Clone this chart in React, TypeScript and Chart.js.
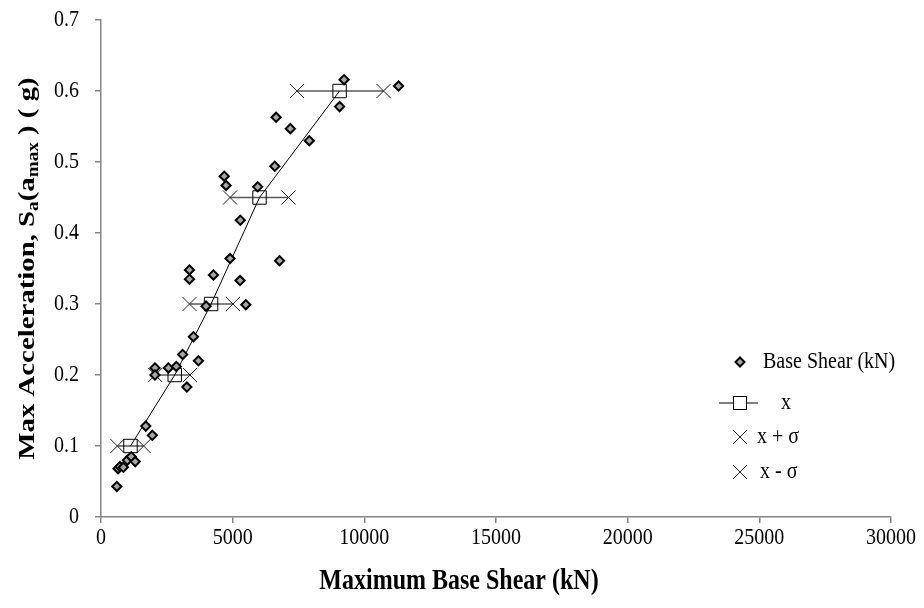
import React, { useEffect, useRef } from "react";
import { Chart, registerables } from "chart.js";

Chart.register(...registerables);

// ---- data ----
const shearX = [600, 650, 720, 850, 1000, 1150, 1300, 1700, 1950, 2050, 2050, 2560, 2860, 3260, 3700, 3100, 3510, 3990, 5500, 3360, 3360, 4270, 5280, 4900, 6780, 5290, 4680, 4750, 5950, 6600, 6650, 7190, 7910, 9060, 9230, 11300];
const shearY = [0.043, 0.068, 0.071, 0.07, 0.08, 0.085, 0.078, 0.128, 0.115, 0.21, 0.2, 0.21, 0.212, 0.183, 0.22, 0.229, 0.254, 0.297, 0.299, 0.348, 0.335, 0.341, 0.333, 0.364, 0.361, 0.418, 0.48, 0.467, 0.465, 0.494, 0.563, 0.547, 0.53, 0.578, 0.616, 0.607];

const levelY = [0.1, 0.2, 0.3, 0.45, 0.6];
const meanX = [1120, 2800, 4180, 6020, 9060];
const plusX = [1620, 3380, 5010, 7120, 10730];
const minusX = [620, 2060, 3360, 4900, 7440];

const xTicks = [0, 5000, 10000, 15000, 20000, 25000, 30000];
const yTicks = [0, 0.1, 0.2, 0.3, 0.4, 0.5, 0.6, 0.7];

const legendLabels = ["Base Shear (kN)", "x", "x + \u03c3", "x - \u03c3"];
const xTitle = "Maximum Base Shear (kN)";
const yTitleParts: { t: string; sub: boolean }[] = [
  { t: "Max Acceleration, S", sub: false },
  { t: "a", sub: true },
  { t: "(a", sub: false },
  { t: "max", sub: true },
  { t: " ) ( g)", sub: false },
];

const FONT = "'Liberation Serif', 'Times New Roman', serif";
const AXIS_GREY = "#868686";
const STRETCH = 1.2;

function drawDiamond(ctx: CanvasRenderingContext2D, x: number, y: number, r: number) {
  ctx.beginPath();
  ctx.moveTo(x, y - r);
  ctx.lineTo(x + r, y);
  ctx.lineTo(x, y + r);
  ctx.lineTo(x - r, y);
  ctx.closePath();
  ctx.fillStyle = "#a6a6a6";
  ctx.fill();
  ctx.lineWidth = 2;
  ctx.strokeStyle = "#000";
  ctx.stroke();
}

function drawX(ctx: CanvasRenderingContext2D, x: number, y: number, d: number) {
  ctx.beginPath();
  ctx.moveTo(x - d, y - d);
  ctx.lineTo(x + d, y + d);
  ctx.moveTo(x - d, y + d);
  ctx.lineTo(x + d, y - d);
  ctx.lineWidth = 1;
  ctx.strokeStyle = "#222";
  ctx.stroke();
}

// text drawn with the same slight vertical stretch seen in the reference
function tallText(
  ctx: CanvasRenderingContext2D,
  text: string,
  x: number,
  y: number,
  font: string,
  align: CanvasTextAlign
) {
  ctx.save();
  ctx.font = font;
  ctx.fillStyle = "#000";
  ctx.textAlign = align;
  ctx.textBaseline = "middle";
  ctx.translate(x, y);
  ctx.scale(1, STRETCH);
  ctx.fillText(text, 0, 0);
  ctx.restore();
}

const customPlugin = {
  id: "customText",
  afterDraw(chart: any) {
    const ctx: CanvasRenderingContext2D = chart.ctx;
    const area = chart.chartArea;
    const xs = chart.scales.x;
    const ys = chart.scales.y;
    const tickFont = `20px ${FONT}`;

    // ---- tick labels ----
    xTicks.forEach((v) => {
      tallText(ctx, String(v), xs.getPixelForValue(v), area.bottom + 21, tickFont, "center");
    });
    yTicks.forEach((v) => {
      tallText(ctx, String(v), area.left - 22, ys.getPixelForValue(v), tickFont, "right");
    });

    // ---- x title ----
    tallText(ctx, xTitle, 459, 582, `bold 24px ${FONT}`, "center");

    // ---- y title with subscripts ----
    ctx.save();
    const mainFont = `bold 24px ${FONT}`;
    const subFont = `bold 16px ${FONT}`;
    let total = 0;
    const widths = yTitleParts.map((p) => {
      ctx.font = p.sub ? subFont : mainFont;
      const w = ctx.measureText(p.t).width;
      total += w;
      return w;
    });
    const cy = (area.top + area.bottom) / 2;
    ctx.translate(28, cy);
    ctx.rotate(-Math.PI / 2);
    ctx.scale(STRETCH, 1);
    ctx.fillStyle = "#000";
    ctx.textBaseline = "middle";
    ctx.textAlign = "left";
    let cx = -total / 2;
    yTitleParts.forEach((p, i) => {
      ctx.font = p.sub ? subFont : mainFont;
      ctx.fillText(p.t, cx, p.sub ? 6 : 0);
      cx += widths[i];
    });
    ctx.restore();

    // ---- legend ----
    ctx.save();
    const legFont = `20px ${FONT}`;
    const symX = 740;
    const rows = [362, 403, 437, 472];
    drawDiamond(ctx, symX, rows[0], 4.5);
    tallText(ctx, legendLabels[0], 763, rows[0], legFont, "left");
    ctx.beginPath();
    ctx.moveTo(719, rows[1]);
    ctx.lineTo(758, rows[1]);
    ctx.lineWidth = 1;
    ctx.strokeStyle = "#000";
    ctx.stroke();
    ctx.fillStyle = "#fff";
    ctx.fillRect(symX - 6, rows[1] - 6, 12, 12);
    ctx.strokeRect(symX - 6.5, rows[1] - 6.5, 13, 13);
    tallText(ctx, legendLabels[1], 781, rows[1], legFont, "left");
    drawX(ctx, symX, rows[2], 7);
    tallText(ctx, legendLabels[2], 757, rows[2], legFont, "left");
    drawX(ctx, symX, rows[3], 7);
    tallText(ctx, legendLabels[3], 760, rows[3], legFont, "left");
    ctx.restore();
  },
};

export default function App() {
  const ref = useRef<HTMLCanvasElement | null>(null);

  useEffect(() => {
    if (!ref.current) return;
    const errorSets = levelY.map((y, i) => ({
      label: "sd" + i,
      data: [
        { x: minusX[i], y },
        { x: plusX[i], y },
      ],
      showLine: true,
      borderColor: "#595959",
      borderWidth: 1.5,
      pointRadius: 0,
      order: 4,
    }));

    const chart = new Chart(ref.current, {
      type: "scatter",
      data: {
        datasets: [
          {
            label: legendLabels[0],
            data: shearX.map((x, i) => ({ x, y: shearY[i] })),
            pointStyle: "rectRot",
            pointRadius: 4.6,
            pointBackgroundColor: "#a6a6a6",
            pointBorderColor: "#000",
            pointBorderWidth: 2,
            showLine: false,
            order: 0,
          },
          {
            label: legendLabels[1],
            data: meanX.map((x, i) => ({ x, y: levelY[i] })),
            showLine: true,
            borderColor: "#000",
            borderWidth: 1,
            pointStyle: "rect",
            pointRadius: 9.5,
            pointBackgroundColor: "rgba(0,0,0,0)",
            pointBorderColor: "#000",
            pointBorderWidth: 1,
            order: 1,
          },
          {
            label: legendLabels[2],
            data: plusX.map((x, i) => ({ x, y: levelY[i] })),
            showLine: false,
            pointStyle: "crossRot",
            pointRadius: 10,
            pointBorderColor: "#222",
            pointBorderWidth: 1,
            order: 2,
          },
          {
            label: legendLabels[3],
            data: minusX.map((x, i) => ({ x, y: levelY[i] })),
            showLine: false,
            pointStyle: "crossRot",
            pointRadius: 10,
            pointBorderColor: "#222",
            pointBorderWidth: 1,
            order: 3,
          },
          ...errorSets,
        ] as any,
      },
      options: {
        animation: false,
        responsive: false,
        layout: { padding: { left: 0, right: 33, top: 20, bottom: 0 } },
        plugins: {
          legend: { display: false },
          tooltip: { enabled: false },
          title: { display: false },
        },
        scales: {
          x: {
            type: "linear",
            min: 0,
            max: 30000,
            afterFit: (s: any) => {
              s.height = 91;
            },
            ticks: { stepSize: 5000, display: false },
            grid: {
              display: true,
              drawOnChartArea: false,
              drawTicks: true,
              tickLength: 6,
              color: AXIS_GREY,
              lineWidth: 1.5,
            },
            border: { display: true, color: AXIS_GREY, width: 1.5 },
            title: { display: false },
          },
          y: {
            type: "linear",
            min: 0,
            max: 0.7,
            afterFit: (s: any) => {
              s.width = 101;
            },
            ticks: { stepSize: 0.1, display: false },
            grid: {
              display: true,
              drawOnChartArea: false,
              drawTicks: true,
              tickLength: 6,
              color: AXIS_GREY,
              lineWidth: 1.5,
            },
            border: { display: true, color: AXIS_GREY, width: 1.5 },
            title: { display: false },
          },
        },
      } as any,
      plugins: [customPlugin],
    });
    return () => chart.destroy();
  }, []);

  return (
    <div style={{ position: "fixed", left: 0, top: 0, width: 924, height: 608, background: "#fff" }}>
      <canvas ref={ref} width={924} height={608} style={{ width: 924, height: 608, display: "block" }} />
    </div>
  );
}
